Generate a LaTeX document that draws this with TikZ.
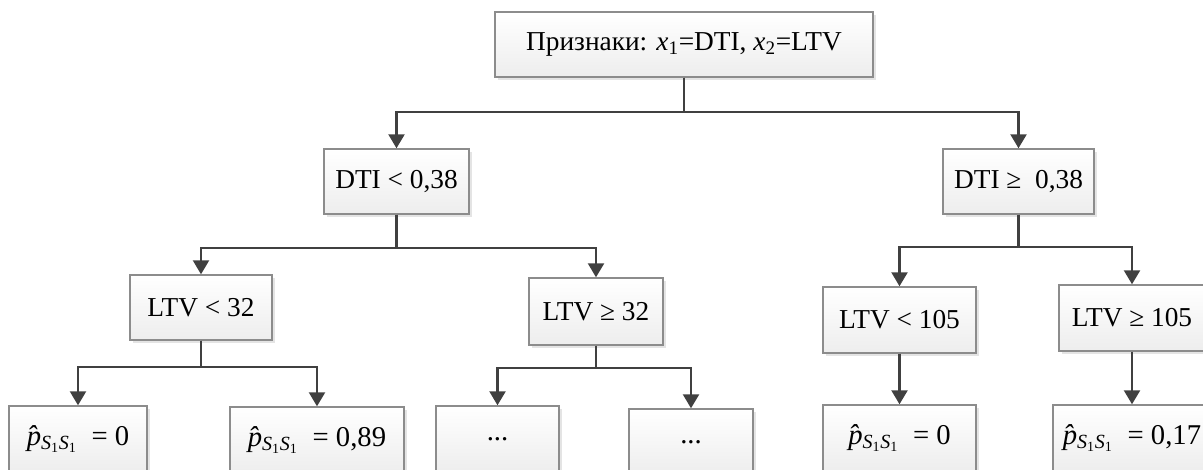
\documentclass[tikz,border=0pt]{standalone}
\usepackage{fontspec}
\setmainfont{Liberation Serif}
\usepackage{tikz}
\usetikzlibrary{arrows.meta,shadows}
\definecolor{linegray}{HTML}{404040}
\definecolor{boxedge}{HTML}{8C8C8C}
\newcommand{\phat}{{\itshape\^{p}}\textsubscript{\itshape S\textsubscript{\upshape 1}S\textsubscript{\upshape 1}}}

\begin{document}
\begin{tikzpicture}[x=0.75pt,y=-0.75pt,
    box/.style={draw=boxedge, line width=1.1pt, top color=white, bottom color=gray!14,
      drop shadow={shadow xshift=2.5pt, shadow yshift=-2.5pt, fill=gray!60, opacity=.35},
      inner sep=0pt, minimum height=48.75pt, font=\fontsize{20.5}{24}\selectfont},
    leaf/.style={box, minimum height=49.5pt, font=\fontsize{21.5}{25}\selectfont},
    arr/.style={draw=linegray, line width=1.8pt, -{Triangle[width=12pt,length=10.5pt]}}]
      \useasboundingbox (0,0) rectangle (1203,469);
      \clip (0,0) rectangle (1203,469);
      % Root
      \node[box, minimum width=283.5pt] (top) at (684,44.5) {Признаки: \textit{x}\textsubscript{1}=DTI, \textit{x}\textsubscript{2}=LTV};
      % First split
      \node[box, minimum width=108.75pt] (dlow) at (396.5,181.5) {DTI < 0,38};
      \node[box, minimum width=113.25pt] (dhigh) at (1018.5,181.5) {DTI ≥~ 0,38};
      % Second split
      \node[box, minimum width=106.5pt] (llow) at (201,307.5) {LTV < 32};
      \node[box, minimum width=100.5pt, minimum height=50.25pt] (lhigh) at (596,311.5) {LTV ≥ 32};
      \node[box, minimum width=114.75pt, minimum height=49.5pt] (rlow) at (899.5,320) {LTV < 105};
      \node[box, minimum width=109.5pt, minimum height=49.5pt] (rhigh) at (1132,318) {LTV ≥ 105};
      % Leaves
      \node[leaf, minimum width=103.5pt] (leafa) at (78,439) {\phat\ \ = 0};
      \node[leaf, minimum width=130.5pt] (leafb) at (317,440) {\phat\ \ = 0,89};
      \node[leaf, minimum width=92.25pt] (leafc) at (497.5,439) {...};
      \node[leaf, minimum width=93pt] (leafd) at (691,442) {...};
      \node[leaf, minimum width=114.75pt] (leafe) at (899.5,438) {\phat\ \ = 0};
      \node[leaf, minimum width=118.5pt] (leaff) at (1132,438) {\phat\ \ = 0,17};
      % Connectors
      \draw[arr] (top.south) -- ++(0,34) -| (dlow.north);
      \draw[arr] (top.south) -- ++(0,34) -| (dhigh.north);
      \draw[arr] (dlow.south) -- ++(0,33) -| (llow.north);
      \draw[arr] (dlow.south) -- ++(0,33) -| (lhigh.north);
      \draw[arr] (dhigh.south) -- ++(0,32) -| (rlow.north);
      \draw[arr] (dhigh.south) -- ++(0,32) -| (rhigh.north);
      \draw[arr] (llow.south) -- ++(0,26) -| (leafa.north);
      \draw[arr] (llow.south) -- ++(0,26) -| (leafb.north);
      \draw[arr] (lhigh.south) -- ++(0,22) -| (leafc.north);
      \draw[arr] (lhigh.south) -- ++(0,22) -| (leafd.north);
      \draw[arr] (rlow.south) -- (leafe.north);
      \draw[arr] (rhigh.south) -- (leaff.north);
    \end{tikzpicture}
\end{document}
